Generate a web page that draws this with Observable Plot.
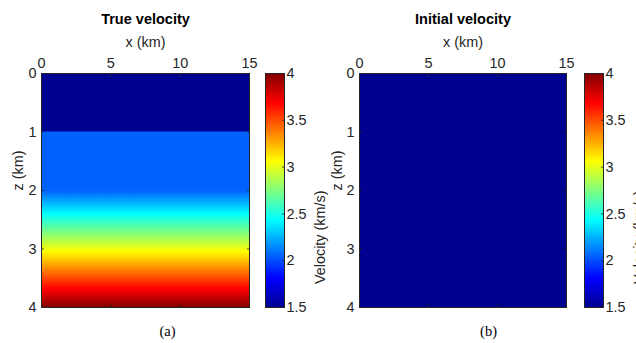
<!DOCTYPE html>
<html><head><meta charset="utf-8">
<script src="https://cdn.jsdelivr.net/npm/d3@7"></script>
<script src="https://cdn.jsdelivr.net/npm/@observablehq/plot@0.6"></script>
<style>
html,body{margin:0;padding:0;background:#fff;overflow:hidden}
#fig{position:relative;width:636px;height:343px;overflow:hidden;background:#fff}
#fig svg{position:absolute;left:0;top:0;background:transparent}
</style></head><body><div id="fig"></div>
<script>
// ---- data ----
const xTicks = [0, 5, 10, 15];
const zTicks = [0, 1, 2, 3, 4];
const cbTicks = [1.5, 2, 2.5, 3, 3.5, 4];
const xExtent = [0, 15];
const zExtent = [0, 4];
const vExtent = [1.5, 4];
// true model: velocity profile knots (depth km, velocity km/s)
const trueDepth = [0, 0.99, 1.0, 2.0, 4.0];
const trueVel   = [1.5, 1.5, 2.05, 2.05, 4.0];
// initial model
const initDepth = [0, 4];
const initVel   = [1.5, 1.5];
const titles = ["True velocity", "Initial velocity"];
const captions = ["(a)", "(b)"];
const xLabel = "x (km)";
const zLabel = "z (km)";
const cbLabel = "Velocity (km/s)";
// jet colormap stops
const jetStops = [0, 0.125, 0.375, 0.625, 0.875, 1];
const jetColors = ["#00008f", "#0000ff", "#00ffff", "#ffff00", "#ff0000", "#800000"];

const INK = "#262626";
const FONT = "'Liberation Sans', Arial, Helvetica, sans-serif";
const SERIF = "'Liberation Serif', 'Times New Roman', serif";
const W = 636, H = 343, TOP = 73, BOTTOM = 307;
const jetDomain = jetStops.map(t => vExtent[0] + t * (vExtent[1] - vExtent[0]));
const colorOpts = {type: "linear", domain: jetDomain, range: jetColors, interpolate: "rgb"};

function panel({left, right, title, caption, capDx, depth, vel, zLabelDx}) {
  const pts = depth.flatMap((z, i) => xExtent.map(x => ({x, z, v: vel[i]})));
  const tickStyle = {tickFormat: () => "", label: null, stroke: INK, strokeWidth: 0.8, tickSize: 3};
  return Plot.plot({
    width: W, height: H,
    marginLeft: left, marginRight: W - right, marginTop: TOP, marginBottom: H - BOTTOM,
    style: {background: "transparent", fontFamily: FONT, fontSize: "14.4px", color: INK, overflow: "visible"},
    x: {domain: xExtent, axis: null},
    y: {domain: zExtent, reverse: true, axis: null},
    color: colorOpts,
    marks: [
      Plot.raster(pts, {x: "x", y: "z", fill: "v", x1: xExtent[0], x2: xExtent[1], y1: zExtent[0], y2: zExtent[1], interpolate: "barycentric"}),
      Plot.axisX(xTicks, {anchor: "top", dy: 3, ...tickStyle}),
      Plot.axisX(xTicks, {anchor: "bottom", dy: -3, ...tickStyle}),
      Plot.axisY(zTicks, {anchor: "left", dx: 3, ...tickStyle}),
      Plot.axisY(zTicks, {anchor: "right", dx: -3, ...tickStyle}),
      Plot.frame({stroke: INK, strokeWidth: 1}),
      Plot.text(xTicks, {x: d => d, frameAnchor: "top", lineAnchor: "middle", dy: -10.6, text: d => String(d), fill: INK, fontSize: 14.4}),
      Plot.text(zTicks, {y: d => d, frameAnchor: "left", lineAnchor: "middle", dx: -5, textAnchor: "end", text: d => String(d), fill: INK, fontSize: 14.4}),
      Plot.text([xLabel], {frameAnchor: "top", lineAnchor: "middle", dy: -31.6, text: d => d, fill: INK, fontSize: 14.4}),
      Plot.text([title], {frameAnchor: "top", lineAnchor: "middle", dy: -54.2, text: d => d, fill: "#000", fontSize: 14.5, fontWeight: "bold"}),
      Plot.text([zLabel], {frameAnchor: "left", lineAnchor: "middle", dx: zLabelDx, rotate: -90, text: d => d, fill: INK, fontSize: 14.4}),
      Plot.text([caption], {frameAnchor: "bottom", lineAnchor: "middle", dx: capDx, dy: 23.4, text: d => d, fill: "#000", fontSize: 14.5, fontFamily: SERIF})
    ]
  });
}

function colorbar({left, right}) {
  return Plot.plot({
    width: W, height: H,
    marginLeft: left, marginRight: W - right, marginTop: TOP, marginBottom: H - BOTTOM,
    style: {background: "transparent", fontFamily: FONT, fontSize: "14.4px", color: INK, overflow: "visible"},
    x: {domain: [0, 1], axis: null},
    y: {domain: vExtent, axis: null},
    color: colorOpts,
    marks: [
      Plot.raster({fill: (x, y) => y, x1: 0, x2: 1, y1: vExtent[0], y2: vExtent[1]}),
      Plot.axisY(cbTicks, {anchor: "right", dx: -3, tickSize: 3, tickFormat: () => "", label: null, stroke: INK, strokeWidth: 0.8}),
      Plot.frame({stroke: INK, strokeWidth: 1}),
      Plot.text(cbTicks, {y: d => d, frameAnchor: "right", lineAnchor: "middle", dx: 2, textAnchor: "start", text: d => String(d), fill: INK, fontSize: 14.4}),
      Plot.text([cbLabel], {frameAnchor: "right", lineAnchor: "middle", dx: 36, rotate: -90, text: d => d, fill: INK, fontSize: 14.4})
    ]
  });
}

const fig = document.getElementById("fig");
fig.appendChild(panel({left: 41, right: 249, title: titles[0], caption: captions[0], capDx: 22, depth: trueDepth, vel: trueVel, zLabelDx: -23}));
fig.appendChild(colorbar({left: 265, right: 284}));
fig.appendChild(panel({left: 359, right: 566, title: titles[1], caption: captions[1], capDx: 25.5, depth: initDepth, vel: initVel, zLabelDx: -22}));
fig.appendChild(colorbar({left: 584, right: 603}));
</script></body></html>
